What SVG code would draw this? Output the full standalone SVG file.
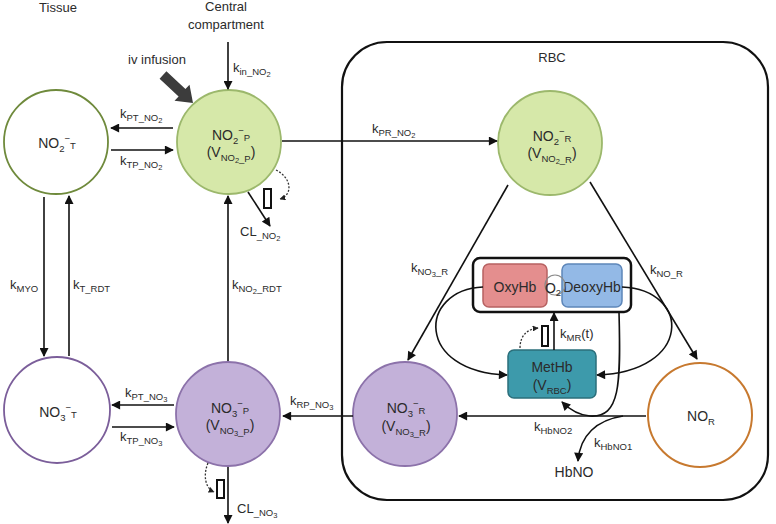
<svg xmlns="http://www.w3.org/2000/svg" width="776" height="524" viewBox="0 0 776 524">
<defs>
<style>
text{font-family:"Liberation Sans",Arial,sans-serif;fill:#2b2b2b}
.t{font-size:13px}
.n{font-size:14px}
.s{font-size:9.5px}
.ss{font-size:7.5px}
.ln{fill:none;stroke:#111;stroke-width:1.6}
.dot{fill:none;stroke:#333;stroke-width:1.3;stroke-dasharray:2 1.6}
.valve{fill:#fff;stroke:#111;stroke-width:2}
.green{fill:#d6e8a9;stroke:#9cb86c;stroke-width:1.8}
.purple{fill:#c3b1d9;stroke:#8c72aa;stroke-width:1.8}
</style>
<marker id="ah" viewBox="0 0 10 10" refX="9" refY="5" markerWidth="10" markerHeight="9" markerUnits="userSpaceOnUse" orient="auto"><path d="M0,0 L10,5 L0,10 z" fill="#111"/></marker>
<marker id="sh" viewBox="0 0 10 10" refX="9" refY="5" markerWidth="6" markerHeight="6" markerUnits="userSpaceOnUse" orient="auto"><path d="M0,0 L10,5 L0,10 z" fill="#222"/></marker>
</defs>
<rect width="776" height="524" fill="#fff"/>

<g id="titles">
<text class="t" x="58" y="12" text-anchor="middle">Tissue</text>
<text class="t" x="226" y="11" text-anchor="middle">Central</text>
<text class="t" x="226" y="29" text-anchor="middle">compartment</text>
<text class="t" x="157" y="64" text-anchor="middle">iv infusion</text>
</g>

<g id="rbc">
<rect x="342" y="42" width="426" height="458" rx="45" fill="none" stroke="#111" stroke-width="2.2"/>
<text class="t" x="552" y="62" text-anchor="middle">RBC</text>
</g>

<g id="no2_t">
<circle cx="56" cy="142" r="52" fill="#fff" stroke="#6f8a3c" stroke-width="1.8"/>
<text class="n" x="57" y="148" text-anchor="middle">NO<tspan class="s" dy="4">2</tspan><tspan class="s" dy="-10">−</tspan><tspan class="s" dy="7">T</tspan></text>
</g>

<g id="no2_p">
<circle class="green" cx="229" cy="142" r="52"/>
<text class="n" x="231" y="140" text-anchor="middle">NO<tspan class="s" dy="4">2</tspan><tspan class="s" dy="-10">−</tspan><tspan class="s" dy="7">P</tspan></text>
<text class="n" x="231" y="157" text-anchor="middle">(V<tspan class="s" dy="4">NO</tspan><tspan class="ss" dy="2">2</tspan><tspan class="s" dy="-1">_P</tspan><tspan dy="-5">)</tspan></text>
</g>

<g id="no2_r">
<circle class="green" cx="550" cy="143" r="52"/>
<text class="n" x="552" y="141" text-anchor="middle">NO<tspan class="s" dy="4">2</tspan><tspan class="s" dy="-10">−</tspan><tspan class="s" dy="7">R</tspan></text>
<text class="n" x="552" y="158" text-anchor="middle">(V<tspan class="s" dy="4">NO</tspan><tspan class="ss" dy="2">2</tspan><tspan class="s" dy="-1">_R</tspan><tspan dy="-5">)</tspan></text>
</g>

<g id="no3_t">
<circle cx="57" cy="410" r="53" fill="#fff" stroke="#7b5e9a" stroke-width="1.8"/>
<text class="n" x="58" y="417" text-anchor="middle">NO<tspan class="s" dy="4">3</tspan><tspan class="s" dy="-10">−</tspan><tspan class="s" dy="7">T</tspan></text>
</g>

<g id="no3_p">
<circle class="purple" cx="228" cy="414" r="52"/>
<text class="n" x="230" y="413" text-anchor="middle">NO<tspan class="s" dy="4">3</tspan><tspan class="s" dy="-10">−</tspan><tspan class="s" dy="7">P</tspan></text>
<text class="n" x="230" y="430" text-anchor="middle">(V<tspan class="s" dy="4">NO</tspan><tspan class="ss" dy="2">3</tspan><tspan class="s" dy="-1">_P</tspan><tspan dy="-5">)</tspan></text>
</g>

<g id="no3_r">
<circle class="purple" cx="405" cy="414" r="52"/>
<text class="n" x="406" y="413" text-anchor="middle">NO<tspan class="s" dy="4">3</tspan><tspan class="s" dy="-10">−</tspan><tspan class="s" dy="7">R</tspan></text>
<text class="n" x="406" y="431" text-anchor="middle">(V<tspan class="s" dy="4">NO</tspan><tspan class="ss" dy="2">3</tspan><tspan class="s" dy="-1">_R</tspan><tspan dy="-5">)</tspan></text>
</g>

<g id="no_r">
<circle cx="700" cy="415" r="52" fill="#fff" stroke="#c7792f" stroke-width="2"/>
<text class="n" x="701" y="421" text-anchor="middle">NO<tspan class="s" dy="4">R</tspan></text>
</g>

<g id="hb">
<rect x="473" y="258" width="158" height="54" rx="7" fill="#fff" stroke="#111" stroke-width="2.5"/>
</g>
<g id="oxyhb">
<rect x="483" y="264" width="64" height="43" rx="6" fill="#e48e8e" stroke="#b76262" stroke-width="1.5"/>
<text class="n" x="515" y="292" text-anchor="middle">OxyHb</text>
</g>
<g id="deoxyhb">
<rect x="562" y="264" width="60" height="43" rx="6" fill="#93b9e6" stroke="#5d86b9" stroke-width="1.5"/>
<text class="n" x="592" y="292" text-anchor="middle">DeoxyHb</text>
</g>
<g id="o2">
<circle cx="555" cy="285" r="10" fill="none" stroke="#8a8a8a" stroke-width="1.2"/>
<text class="n" x="553" y="293" text-anchor="middle">O<tspan class="s" dy="3">2</tspan></text>
</g>

<g id="methb">
<rect x="508" y="350" width="88" height="48" rx="6" fill="#3d9aab" stroke="#2b6f7b" stroke-width="1.5"/>
<text class="n" x="552" y="372" text-anchor="middle">MetHb</text>
<text class="n" x="552" y="390" text-anchor="middle">(V<tspan class="s" dy="4">RBC</tspan><tspan dy="-4">)</tspan></text>
</g>

<g id="hbno">
<text class="n" x="574" y="477" text-anchor="middle">HbNO</text>
</g>

<g id="connectors">
<g transform="translate(163,75) rotate(43)"><polygon points="0,-5 26,-5 26,-11 41,0 26,11 26,5 0,5" fill="#3c3c3c"/></g>
<line class="ln" x1="228" y1="42" x2="228" y2="89" marker-end="url(#ah)"/>
<line class="ln" x1="173" y1="128" x2="111" y2="128" marker-end="url(#ah)"/>
<line class="ln" x1="111" y1="150" x2="173" y2="150" marker-end="url(#ah)"/>
<line class="ln" x1="282" y1="141" x2="497" y2="141" marker-end="url(#ah)"/>
<line class="ln" x1="44" y1="197" x2="44" y2="356" marker-end="url(#ah)"/>
<line class="ln" x1="69" y1="356" x2="69" y2="196" marker-end="url(#ah)"/>
<line class="ln" x1="228" y1="361" x2="228" y2="196" marker-end="url(#ah)"/>
<line class="ln" x1="248" y1="192" x2="270" y2="226" marker-end="url(#ah)"/>
<line class="ln" x1="174" y1="405" x2="112" y2="405" marker-end="url(#ah)"/>
<line class="ln" x1="112" y1="427" x2="174" y2="427" marker-end="url(#ah)"/>
<line class="ln" x1="353" y1="416" x2="283" y2="416" marker-end="url(#ah)"/>
<line class="ln" x1="228" y1="467" x2="228" y2="523" marker-end="url(#ah)"/>
<line class="ln" x1="508" y1="185" x2="408" y2="360" marker-end="url(#ah)"/>
<line class="ln" x1="590" y1="182" x2="697" y2="359" marker-end="url(#ah)"/>
<line class="ln" x1="646" y1="416" x2="459" y2="416" marker-end="url(#ah)"/>
<path class="ln" d="M623,416 C597,420 580,435 578,461" marker-end="url(#ah)"/>
<line class="ln" x1="554" y1="350" x2="554" y2="313" marker-end="url(#ah)"/>
<path class="ln" d="M483,287 C418,290 415,372 507,375" marker-end="url(#ah)"/>
<path class="ln" d="M622,287 C692,290 692,372 597,375" marker-end="url(#ah)"/>
<path class="ln" d="M619,312 C621,385 620,418 590,416 C578,415 570,410 562,402" marker-end="url(#ah)"/>
<rect class="valve" x="264" y="189" width="7" height="19"/>
<rect class="valve" x="217" y="480" width="7" height="18"/>
<rect class="valve" x="542" y="326" width="6" height="20"/>
<path class="dot" d="M276,170 C292,178 293,195 280,199" marker-end="url(#sh)"/>
<path class="dot" d="M208,463 C203,475 205,488 214,492" marker-end="url(#sh)"/>
<path class="dot" d="M520,348 C520,335 528,329 538,328" marker-end="url(#sh)"/>
</g>

<g id="labels">
<text class="t" x="233" y="72">k<tspan class="s" dy="3">in_NO</tspan><tspan class="ss" dy="2">2</tspan></text>
<text class="t" x="120" y="118">k<tspan class="s" dy="3">PT_NO</tspan><tspan class="ss" dy="2">2</tspan></text>
<text class="t" x="120" y="165">k<tspan class="s" dy="3">TP_NO</tspan><tspan class="ss" dy="2">2</tspan></text>
<text class="t" x="372" y="133">k<tspan class="s" dy="3">PR_NO</tspan><tspan class="ss" dy="2">2</tspan></text>
<text class="t" x="10" y="289">k<tspan class="s" dy="3">MYO</tspan></text>
<text class="t" x="73" y="289">k<tspan class="s" dy="3">T_RDT</tspan></text>
<text class="t" x="232" y="289">k<tspan class="s" dy="3">NO</tspan><tspan class="ss" dy="2">2</tspan><tspan class="s" dy="-2">_RDT</tspan></text>
<text class="t" x="240" y="236">CL<tspan class="s" dy="3">_NO</tspan><tspan class="ss" dy="2">2</tspan></text>
<text class="t" x="125" y="397">k<tspan class="s" dy="3">PT_NO</tspan><tspan class="ss" dy="2">3</tspan></text>
<text class="t" x="120" y="441">k<tspan class="s" dy="3">TP_NO</tspan><tspan class="ss" dy="2">3</tspan></text>
<text class="t" x="290" y="405">k<tspan class="s" dy="3">RP_NO</tspan><tspan class="ss" dy="2">3</tspan></text>
<text class="t" x="237" y="513">CL<tspan class="s" dy="3">_NO</tspan><tspan class="ss" dy="2">3</tspan></text>
<text class="t" x="411" y="272">k<tspan class="s" dy="3">NO</tspan><tspan class="ss" dy="2">3</tspan><tspan class="s" dy="-2">_R</tspan></text>
<text class="t" x="650" y="274">k<tspan class="s" dy="3">NO_R</tspan></text>
<text class="t" x="560" y="338">k<tspan class="s" dy="3">MR</tspan><tspan dy="-3">(t)</tspan></text>
<text class="t" x="534" y="431">k<tspan class="s" dy="3">HbNO2</tspan></text>
<text class="t" x="594" y="447">k<tspan class="s" dy="3">HbNO1</tspan></text>
</g>
</svg>
